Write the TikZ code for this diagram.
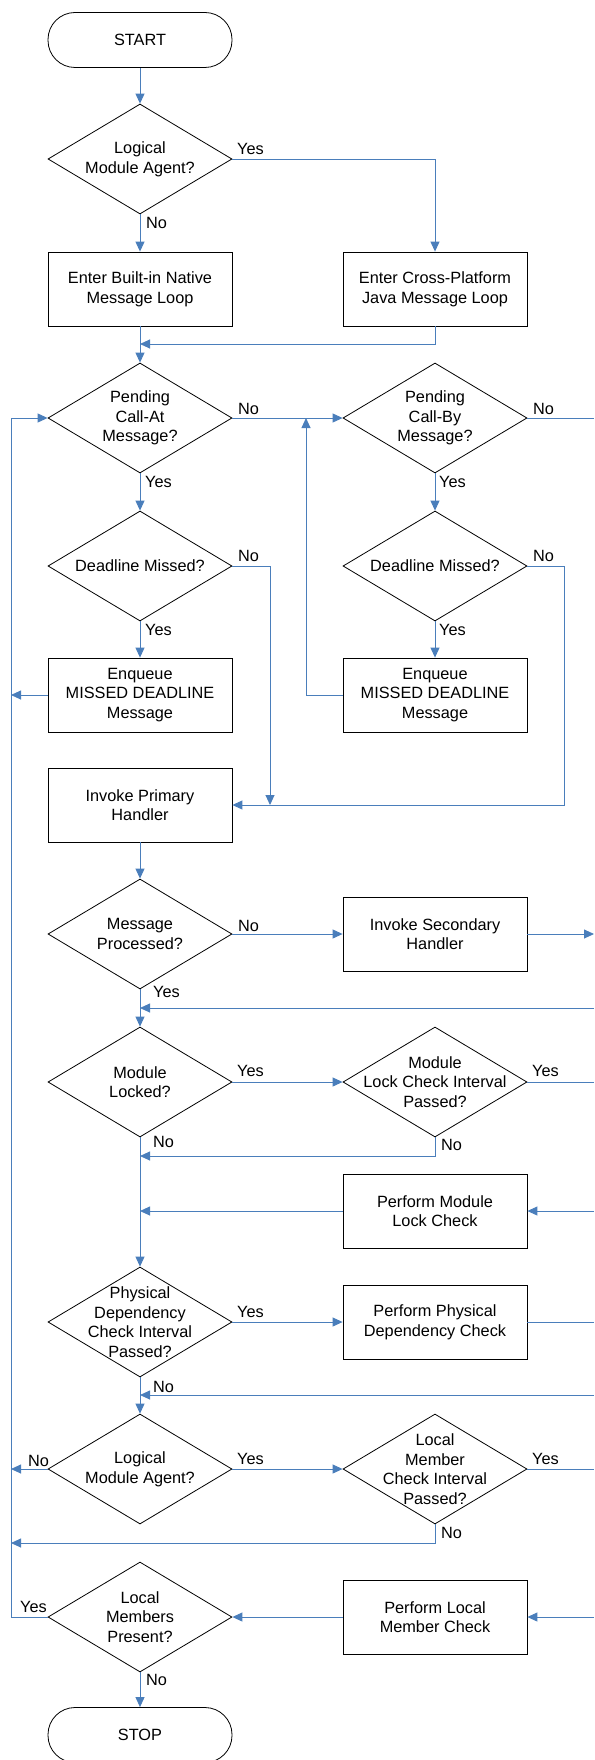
\documentclass[tikz,border=0pt]{standalone}
\usepackage{fontspec}
\setmainfont{Liberation Sans}
\usetikzlibrary{shapes.geometric,arrows.meta}
\definecolor{connblue}{HTML}{4A7EBB}
\begin{document}
\begin{tikzpicture}[x=1pt,y=-1pt,
  every node/.style={font=\fontsize{16.3}{19.6}\selectfont},
  shp/.style={draw=black,line width=0.8pt},
  term/.style={shp,rectangle,rounded corners=27pt,minimum width=184pt,minimum height=55pt,inner sep=0pt},
  proc/.style={shp,rectangle,minimum width=184pt,minimum height=74pt,inner sep=0pt,align=center},
  dec/.style={shp,diamond,minimum width=184pt,minimum height=110pt,inner sep=0pt},
  dtxt/.style={align=center,inner sep=0pt},
  lbl/.style={inner sep=0pt,anchor=west},
  conn/.style={draw=connblue,line width=0.9pt},
  arr/.style={conn,-{Triangle[length=10pt,width=9pt]}},
]
\useasboundingbox (0,0) rectangle (594,1760);

% nodes
\node[term] (start) at (140,40) {START};
\node[dec,label={[dtxt]center:{Logical\\Module Agent?}}] (d1) at (140,159) {};
\node[proc] (b1) at (140,289) {Enter Built-in Native\\Message Loop};
\node[proc] (b2) at (435,289) {Enter Cross-Platform\\Java Message Loop};
\node[dec,label={[dtxt]center:{Pending\\Call-At\\Message?}}] (d2) at (140,418) {};
\node[dec,label={[dtxt]center:{Pending\\Call-By\\Message?}}] (d2r) at (435,418) {};
\node[dec,label={[dtxt]center:{Deadline Missed?}}] (d3) at (140,566) {};
\node[dec,label={[dtxt]center:{Deadline Missed?}}] (d3r) at (435,566) {};
\node[proc] (e1) at (140,695) {Enqueue\\MISSED DEADLINE\\Message};
\node[proc] (e2) at (435,695) {Enqueue\\MISSED DEADLINE\\Message};
\node[proc] (p1) at (140,805) {Invoke Primary\\Handler};
\node[dec,label={[dtxt]center:{Message\\Processed?}}] (d4) at (140,934) {};
\node[proc] (s1) at (435,934) {Invoke Secondary\\Handler};
\node[dec,label={[dtxt]center:{Module\\Locked?}}] (d5) at (140,1082) {};
\node[dec,label={[dtxt]center:{Module\\Lock Check Interval\\Passed?}}] (d5r) at (435,1082) {};
\node[proc] (lc) at (435,1211) {Perform Module\\Lock Check};
\node[dec,label={[dtxt]center:{Physical\\Dependency\\Check Interval\\Passed?}}] (d6) at (140,1322) {};
\node[proc] (pd) at (435,1322) {Perform Physical\\Dependency Check};
\node[dec,label={[dtxt]center:{Logical\\Module Agent?}}] (d7) at (140,1469) {};
\node[dec,label={[dtxt]center:{Local\\Member\\Check Interval\\Passed?}}] (d7r) at (435,1469) {};
\node[dec,label={[dtxt]center:{Local\\Members\\Present?}}] (d8) at (140,1617) {};
\node[proc] (lm) at (435,1617) {Perform Local\\Member Check};
\node[term] (stop) at (140,1735) {STOP};

% free ends
\coordinate (m1) at (140,344);
\coordinate (r1) at (594,418);
\coordinate (nl) at (270,805);
\coordinate (nrc) at (564,805);
\coordinate (le1) at (11,695);
\coordinate (mu) at (306,418);
\coordinate (r2) at (594,934);
\coordinate (r3) at (594,1008);
\coordinate (m2) at (140,1008);
\coordinate (r4) at (594,1082);
\coordinate (m3) at (140,1156);
\coordinate (m4) at (140,1211);
\coordinate (r5) at (594,1211);
\coordinate (r6) at (594,1322);
\coordinate (r7) at (594,1395);
\coordinate (m5) at (140,1395);
\coordinate (l2) at (11,1469);
\coordinate (r8) at (594,1469);
\coordinate (l3) at (11,1543);
\coordinate (r9) at (594,1617);
\coordinate (lb) at (11,1617);
\coordinate (lt) at (11,418);

% connectors
\draw[arr] (start.south) -- (d1.north);
\draw[arr] (d1.south) -- (b1.north);
\draw[arr] (d1.east) -| (b2.north);
\draw[arr] (b1.south) -- (d2.north);
\draw[arr] (b2.south) |- (m1);
\draw[arr] (d2.east) -- (d2r.west);
\draw[conn] (d2r.east) -- (r1);
\draw[arr] (d2.south) -- (d3.north);
\draw[arr] (d2r.south) -- (d3r.north);
\draw[arr] (d3.south) -- (e1.north);
\draw[arr] (d3r.south) -- (e2.north);
\draw[arr] (d3.east) -| (nl);
\draw[arr] (d3r.east) -| (nrc) -- (p1.east);
\draw[arr] (e1.west) -- (le1);
\draw[arr] (e2.west) -| (mu);
\draw[arr] (p1.south) -- (d4.north);
\draw[arr] (d4.east) -- (s1.west);
\draw[arr] (s1.east) -- (r2);
\draw[arr] (d4.south) -- (d5.north);
\draw[arr] (r3) -- (m2);
\draw[arr] (d5.east) -- (d5r.west);
\draw[conn] (d5r.east) -- (r4);
\draw[arr] (d5r.south) |- (m3);
\draw[arr] (d5.south) -- (d6.north);
\draw[arr] (lc.west) -- (m4);
\draw[arr] (r5) -- (lc.east);
\draw[arr] (d6.east) -- (pd.west);
\draw[conn] (pd.east) -- (r6);
\draw[arr] (r7) -- (m5);
\draw[arr] (d6.south) -- (d7.north);
\draw[arr] (d7.west) -- (l2);
\draw[arr] (d7.east) -- (d7r.west);
\draw[conn] (d7r.east) -- (r8);
\draw[arr] (d7r.south) |- (l3);
\draw[arr] (lm.west) -- (d8.east);
\draw[arr] (r9) -- (lm.east);
\draw[arr] (d8.west) -- (lb) -- (lt) -- (d2.west);
\draw[arr] (d8.south) -- (stop.north);

% branch labels
\node[lbl] (y1) at (237,149) {Yes};
\node[lbl] (n1) at (146,223) {No};
\node[lbl] (n2) at (238,409) {No};
\node[lbl] (n2r) at (533,409) {No};
\node[lbl] (y2) at (145,482) {Yes};
\node[lbl] (y2r) at (439,482) {Yes};
\node[lbl] (n3) at (238,556) {No};
\node[lbl] (n3r) at (533,556) {No};
\node[lbl] (y3) at (145,630) {Yes};
\node[lbl] (y3r) at (439,630) {Yes};
\node[lbl] (n4) at (238,926) {No};
\node[lbl] (y4) at (153,992) {Yes};
\node[lbl] (y5) at (237,1071) {Yes};
\node[lbl] (y5r) at (532,1071) {Yes};
\node[lbl] (n5) at (153,1142) {No};
\node[lbl] (n5r) at (441,1145) {No};
\node[lbl] (y6) at (237,1312) {Yes};
\node[lbl] (n6) at (153,1387) {No};
\node[lbl] (n7) at (28,1461) {No};
\node[lbl] (y7) at (237,1459) {Yes};
\node[lbl] (y7r) at (532,1459) {Yes};
\node[lbl] (n7r) at (441,1533) {No};
\node[lbl] (y8) at (20,1607) {Yes};
\node[lbl] (n8) at (146,1680) {No};
\end{tikzpicture}
\end{document}
